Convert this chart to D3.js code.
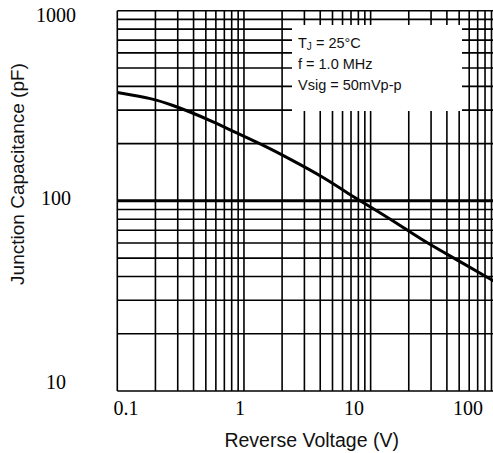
<!DOCTYPE html>
<html>
<head>
<meta charset="utf-8">
<script src="https://cdn.jsdelivr.net/npm/d3@7"></script>
<style>
  body { margin: 0; background: #fff; }
  svg { display: block; }
</style>
</head>
<body>
<script>
// reverse voltage (V) and junction capacitance (pF)
var voltage     = [0.1, 0.19, 0.28, 0.37, 0.57, 0.88, 1.5, 2.3, 4.2, 7.8, 10, 19, 28, 48, 90, 100];
var capacitance = [371, 346, 316, 295, 261, 227, 193, 166, 134, 102, 93, 71, 60, 49, 38.4, 37];

var xTickLabels = [0.1, 1, 10, 100];
var yTickLabels = [10, 100, 1000];
var legendLines = ["= 25°C", "f = 1.0 MHz", "Vsig = 50mVp-p"];

var width = 493, height = 453;

var svg = d3.select('body').append('svg')
  .attr('width', width)
  .attr('height', height);

// scales
var x = d3.scaleLog().domain([0.1, 100]).range([117.3, 497.3]);
var y = d3.scaleLog().domain([10, 1000]).range([391, 10.7]);

// the tick labels sit a little off their grid lines in the original
var xLabelPos = d3.scaleLog().domain([0.1, 100]).range([126, 468]);
var yLabelPos = d3.scaleLog().domain([10, 1000]).range([389, 21.7]);

svg.append('clipPath').attr('id', 'plotclip')
  .append('rect')
  .attr('x', x(0.1) - 2).attr('y', y(1000) - 2)
  .attr('width', width - x(0.1) + 2)
  .attr('height', y(10) - y(1000) + 4);

var plot = svg.append('g').attr('clip-path', 'url(#plotclip)');

// grid values: 1..9 in each decade
function decadeTicks(lo, hi) {
  var out = [];
  for (var d = lo; d < hi; d *= 10) {
    for (var k = 1; k <= 9; k++) out.push(+(k * d).toPrecision(3));
  }
  out.push(hi);
  return out;
}
var xGrid = decadeTicks(0.1, 100);
var yGrid = decadeTicks(10, 1000);

plot.selectAll('line.vgrid')
  .data(xGrid)
  .enter().append('line')
  .attr('class', 'vgrid')
  .attr('x1', function(d) { return x(d); })
  .attr('x2', function(d) { return x(d); })
  .attr('y1', y(1000))
  .attr('y2', y(10))
  .attr('stroke', '#000')
  .attr('stroke-width', 1.6);

plot.selectAll('line.hgrid')
  .data(yGrid)
  .enter().append('line')
  .attr('class', 'hgrid')
  .attr('x1', x(0.1))
  .attr('x2', width)
  .attr('y1', function(d) { return y(d); })
  .attr('y2', function(d) { return y(d); })
  .attr('stroke', '#000')
  .attr('stroke-width', function(d) { return d === 100 ? 3 : 1.6; });

// legend box blanks out the grid behind it
plot.append('rect')
  .attr('x', 292).attr('y', 25)
  .attr('width', 170).attr('height', 86)
  .attr('fill', '#fff');

// curve
var line = d3.line()
  .x(function(d) { return x(d[0]); })
  .y(function(d) { return y(d[1]); })
  .curve(d3.curveBasis);

plot.append('path')
  .datum(d3.zip(voltage, capacitance))
  .attr('fill', 'none')
  .attr('stroke', '#000')
  .attr('stroke-width', 3)
  .attr('d', line);

// tick labels
svg.selectAll('text.xlab')
  .data(xTickLabels)
  .enter().append('text')
  .attr('class', 'xlab')
  .attr('x', function(d) { return xLabelPos(d); })
  .attr('y', 415)
  .attr('text-anchor', 'middle')
  .attr('font-family', 'Liberation Serif, Times New Roman, serif')
  .attr('font-size', 20)
  .attr('fill', '#000')
  .text(function(d) { return d; });

svg.selectAll('text.ylab')
  .data(yTickLabels)
  .enter().append('text')
  .attr('class', 'ylab')
  .attr('x', 56)
  .attr('y', function(d) { return yLabelPos(d); })
  .attr('text-anchor', 'middle')
  .attr('font-family', 'Liberation Serif, Times New Roman, serif')
  .attr('font-size', 20)
  .attr('fill', '#000')
  .text(function(d) { return d; });

// axis titles
svg.append('text')
  .attr('x', 311.7)
  .attr('y', 446.5)
  .attr('text-anchor', 'middle')
  .attr('font-family', 'Liberation Sans, Arial, sans-serif')
  .attr('font-size', 19.5)
  .attr('fill', '#111')
  .text('Reverse Voltage (V)');

svg.append('text')
  .attr('transform', 'translate(24,174) rotate(-90)')
  .attr('text-anchor', 'middle')
  .attr('font-family', 'Liberation Sans, Arial, sans-serif')
  .attr('font-size', 19)
  .attr('fill', '#111')
  .text('Junction Capacitance (pF)');

// legend text
var legend = svg.append('g')
  .attr('font-family', 'Liberation Sans, Arial, sans-serif')
  .attr('font-size', 14.5)
  .attr('fill', '#111');

var tj = legend.append('text').attr('x', 298).attr('y', 48.3);
tj.append('tspan').text('T');
tj.append('tspan').attr('font-size', 10).attr('dy', 2).text('J');
tj.append('tspan').attr('dy', -2).text(' ' + legendLines[0]);

legend.selectAll('text.leg')
  .data(legendLines.slice(1))
  .enter().append('text')
  .attr('class', 'leg')
  .attr('x', 298)
  .attr('y', function(d, i) { return 69.3 + i * 20.8; })
  .text(function(d) { return d; });
</script>
</body>
</html>
